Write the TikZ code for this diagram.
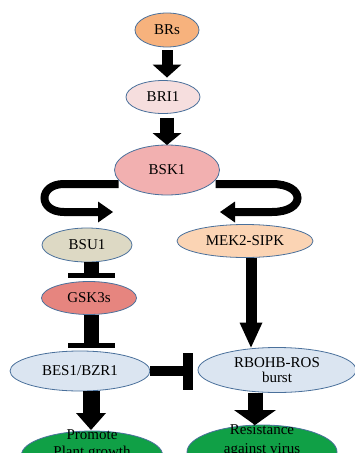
\documentclass[tikz,border=0pt]{standalone}
\usepackage{fontspec}
\setmainfont{Liberation Serif}
\usetikzlibrary{shapes.geometric,arrows.meta,calc,backgrounds}
\definecolor{brsfill}{RGB}{247,178,125}
\definecolor{brifill}{RGB}{246,222,222}
\definecolor{bskfill}{RGB}{242,176,176}
\definecolor{bsufill}{RGB}{221,217,196}
\definecolor{gskfill}{RGB}{230,133,127}
\definecolor{mekfill}{RGB}{251,212,180}
\definecolor{besfill}{RGB}{219,229,241}
\definecolor{endfill}{RGB}{16,160,70}
\definecolor{rimblue}{RGB}{74,112,155}

\begin{document}
\begin{tikzpicture}[x=1pt,y=1pt,yscale=-1,xscale=1,
  stage/.style={ellipse,draw=rimblue,line width=0.8pt,inner sep=0pt,outer sep=0pt,align=center,font=\fontsize{15}{17}\selectfont},
  push/.style args={#1/#2/#3}{line width=#1,-{Triangle[width=#2,length=#3,line width=0pt]}},
  halt/.style args={#1/#2/#3}{line width=#1,-{Rectangle[width=#2,length=#3,line width=0pt]}}]
\useasboundingbox (0,0) rectangle (355,453);
\clip (0,0) rectangle (355,453);

%Shape: Ellipse
\node[stage,fill=brsfill,minimum width=64pt,minimum height=34pt] (brs) at (167,30) {BRs};
\node[stage,fill=brifill,minimum width=74pt,minimum height=33pt] (bri) at (163,97) {BRI1};
\node[stage,fill=bskfill,minimum width=105pt,minimum height=50pt] (bsk) at (167,170) {BSK1};
\node[stage,fill=bsufill,minimum width=90pt,minimum height=34pt] (bsu) at (87,245) {BSU1};
\node[stage,fill=mekfill,minimum width=136pt,minimum height=33pt] (mek) at (245,241) {MEK2-SIPK};
\node[stage,fill=gskfill,minimum width=95pt,minimum height=33pt] (gsk) at (89,298) {GSK3s};
\node[stage,fill=besfill,minimum width=140pt,minimum height=40pt] (bes) at (80,371) {BES1/BZR1};
\node[stage,fill=besfill,minimum width=158pt,minimum height=45pt] (rob) at (277,370) {RBOHB-ROS\\[-2pt]burst};
\node[stage,fill=endfill,minimum width=141pt,minimum height=48pt,
  label={[stage,draw=none,yshift=10.5pt]center:{Promote\\Plant growth}}] (grow) at (92,455) {};
\node[stage,fill=endfill,minimum width=150pt,minimum height=54pt,
  label={[stage,draw=none,yshift=11.5pt]center:{Resistance\\[2pt]against virus}}] (virus) at (262,452) {};

\coordinate (lturn) at (113,212);
\coordinate (rturn) at (220,212);

%Curved Arrows
\begin{scope}[on background layer]
\draw[push=8pt/21pt/15pt] ($(bsk.west)+(4,14)$) -- (64,184) .. controls (38,184) and (38,212) .. (64,212) -- (lturn);
\draw[push=8pt/21pt/15pt] ($(bsk.east)+(-4,14)$) -- (272,184) .. controls (306,184) and (306,212) .. (272,212) -- (rturn);
\end{scope}

%Straight Lines
\draw[push=11pt/29pt/13pt] ($(brs.south)+(0,3)$) -- ($(bri.north)+(4,-3)$);
\draw[push=14pt/29pt/12pt] ($(bri.south)+(4,4)$) -- (bsk.north);
\draw[halt=15pt/47pt/5pt] ($(bsu.south)+(4,0)$) -- ($(bsu.south |- gsk.north)+(4,-4)$);
\draw[halt=15pt/47pt/5pt] ($(gsk.south)+(2,0)$) -- ($(gsk.south |- bes.north)+(2,-3)$);
\draw[push=11pt/23pt/25pt] ($(mek.south)+(6,0)$) -- ($(mek.south |- rob.north)+(6,0)$);
\draw[halt=10pt/37pt/10pt] (bes.east) -- ($(rob.west)+(-5,1)$);
\draw[push=17pt/30pt/17pt] ($(bes.south)+(11,0)$) -- ($(bes.south |- grow.north)+(11,-1)$);
\draw[push=15pt/42pt/15pt] ($(rob.south)+(-22,0)$) -- ($(rob.south |- virus.north)+(-22,0)$);

\end{tikzpicture}
\end{document}
